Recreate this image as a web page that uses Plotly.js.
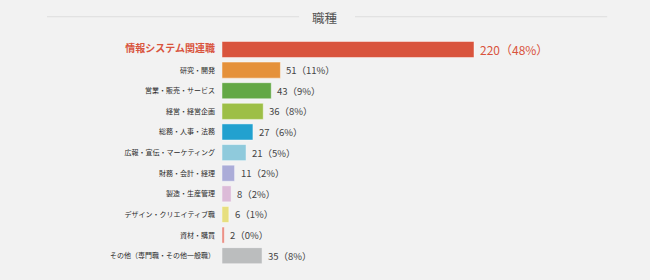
<!DOCTYPE html>
<html><head><meta charset="utf-8">
<script src="https://cdn.plot.ly/plotly-3.0.1.min.js"></script>
<style>html,body{margin:0;padding:0;background:#f2f2f2;}#chart{width:650px;height:280px;}</style>
</head><body><div id="chart"></div>
<script>
const categories = ["情報システム関連職","研究・開発","営業・販売・サービス","経営・経営企画","総務・人事・法務","広報・宣伝・マーケティング","財務・会計・経理","製造・生産管理","デザイン・クリエイティブ職","資材・購買","その他（専門職・その他一般職）"];
const counts = [220, 51, 43, 36, 27, 21, 11, 8, 6, 2, 35];
const percents = [48, 11, 9, 8, 6, 5, 2, 2, 1, 0, 8];
const colors = ["#d9543d","#e5913a","#63a845","#9dbf46","#22a1cf","#8fcadc","#abacd8","#dcbbd8","#e7df7f","#e9857a","#bbbdbe"];
const title = "職種";

const idx = categories.map((_, i) => i);
const labels = counts.map((c, i) => c + "（" + percents[i] + "%）");
const tickText = categories.map((c, i) => i === 0
  ? '<span style="color:#d9543d;font-size:10px"><b>' + c + '</b></span>'
  : c);

const trace = {
  type: 'bar', orientation: 'h',
  x: counts, y: idx,
  marker: {color: colors, line: {color: 'rgba(255,255,255,0.45)', width: 1}},
  hoverinfo: 'none'
};

const valueAnns = counts.map((c, i) => ({
  x: c, y: i, xref: 'x', yref: 'y', text: labels[i],
  xanchor: 'left', yanchor: 'middle', xshift: 4, showarrow: false,
  font: {family: '"Noto Sans CJK JP", sans-serif', size: i === 0 ? 12 : 9.5, color: i === 0 ? '#d9543d' : '#444'}
}));

const layout = {
  width: 650, height: 280,
  paper_bgcolor: '#f2f2f2', plot_bgcolor: '#f2f2f2',
  margin: {l: 222, r: 50, t: 39, b: 14},
  bargap: 0.22,
  showlegend: false,
  font: {family: '"Noto Sans CJK JP", sans-serif', color: '#333'},
  xaxis: {range: [0, 330], visible: false, fixedrange: true},
  yaxis: {
    autorange: 'reversed', tickvals: idx, ticktext: tickText,
    showgrid: false, zeroline: false, showline: false, ticks: '',
    ticklabelstandoff: 6,
    tickfont: {size: 7, color: '#2a2a2a', family: '"Noto Sans CJK JP", sans-serif'}
  },
  annotations: [{
    text: title, xref: 'paper', yref: 'paper', x: 0.272, y: 1.095,
    xanchor: 'center', yanchor: 'middle', showarrow: false,
    font: {size: 12.5, color: '#555', family: '"Noto Sans CJK JP", sans-serif'}
  }].concat(valueAnns),
  shapes: [
    {type: 'line', xref: 'paper', yref: 'paper', x0: -0.463, x1: 0.204, y0: 1.098, y1: 1.098, line: {color: '#dddddd', width: 1}},
    {type: 'line', xref: 'paper', yref: 'paper', x0: 0.352, x1: 1.019, y0: 1.098, y1: 1.098, line: {color: '#dddddd', width: 1}}
  ]
};

Plotly.newPlot('chart', [trace], layout, {displayModeBar: false, staticPlot: true});
</script></body></html>
